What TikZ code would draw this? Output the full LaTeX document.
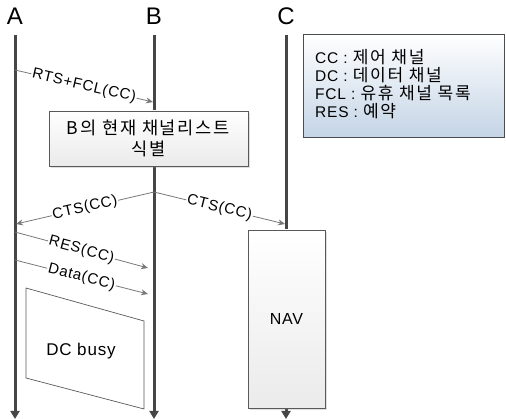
\documentclass[tikz,border=0pt]{standalone}
\usepackage{fontspec}
\setmainfont[LetterSpace=5]{Liberation Sans}
\newfontfamily\kr[LetterSpace=10, Scale=1.1]{Noto Sans CJK KR}
\usetikzlibrary{arrows.meta, shadows}

\definecolor{lifegray}{RGB}{70,70,70}
\definecolor{msggray}{RGB}{120,120,120}
\definecolor{legendblue}{RGB}{196,212,230}

\begin{document}
\begin{tikzpicture}[x=1pt, y=-1pt,
		head/.style={font=\fontsize{24}{26}\selectfont},
		life/.style={draw=lifegray, line width=3pt, -{Triangle[width=9pt, length=8pt]}},
		msg/.style={draw=msggray, line width=0.8pt, -{Stealth[width=6pt, length=7pt]}},
		lbl/.style={midway, sloped, fill=white, inner sep=1pt, font=\fontsize{15}{17}\selectfont},
		box/.style={draw=black!65, line width=0.7pt, top color=white, bottom color=black!8,
			drop shadow={opacity=0.25, shadow xshift=2pt, shadow yshift=-2pt}},
	]
	\useasboundingbox (0,0) rectangle (506,419);

	\node[head] (A) at (15,16) {A};
	\node[head] (B) at (154,16) {B};
	\node[head] (C) at (286,16) {C};

	\coordinate (a0) at (15,35);
	\coordinate (a1) at (15,419);
	\coordinate (b0) at (154,35);
	\coordinate (b1) at (154,419);
	\coordinate (c0) at (286,35);
	\coordinate (c1) at (286,419);

	\draw[life] (a0) -- (a1);
	\draw[life] (b0) -- (b1);
	\draw[life] (c0) -- (c1);

	% messages
	\coordinate (rtsA) at (15,70);
	\coordinate (rtsB) at (153,102);
	\coordinate (ctsB) at (154,192);
	\coordinate (ctsA) at (16,224);
	\coordinate (ctsC) at (285,224);
	\coordinate (resA) at (15,232);
	\coordinate (resB) at (148,268);
	\coordinate (datA) at (15,260);
	\coordinate (datB) at (148,294);

	\draw[msg] (rtsA) -- node[lbl] {RTS+FCL(CC)} (rtsB);
	\draw[msg] (ctsB) -- node[lbl] {CTS(CC)} (ctsA);
	\draw[msg] (ctsB) -- node[lbl] {CTS(CC)} (ctsC);
	\draw[msg] (resA) -- node[lbl] {RES(CC)} (resB);
	\draw[msg] (datA) -- node[lbl] {Data(CC)} (datB);

	\node[box, minimum width=199pt, minimum height=55pt, align=center,
		font=\kr\fontsize{16}{21}\selectfont] (scan) at (148.5,138.5)
		{B의 현재 채널리스트\\식별};

	\node[box, minimum width=77pt, minimum height=178pt,
		font=\fontsize{16}{18}\selectfont] (nav) at (286.5,319) {NAV};

	\draw[draw=black!65, line width=0.7pt, fill=white]
		(26,288) -- (144,321) -- (144,409) -- (26,378) -- cycle;
	\node[font=\fontsize{17}{19}\selectfont] (busy) at (81,351) {DC busy};

	% legend
	\node[draw=black!70, line width=0.7pt, top color=white, bottom color=legendblue,
		minimum width=201pt, minimum height=103pt] (legend) at (403.5,85.5) {};
	\node[anchor=north west, inner sep=0pt, align=left,
		font=\fontsize{15.5}{18}\selectfont] (legtext) at (315,49)
		{CC : {\kr 제어 채널}\\
		DC : {\kr 데이터 채널}\\
		FCL : {\kr 유휴 채널 목록}\\
		RES : {\kr 예약}};
\end{tikzpicture}
\end{document}
